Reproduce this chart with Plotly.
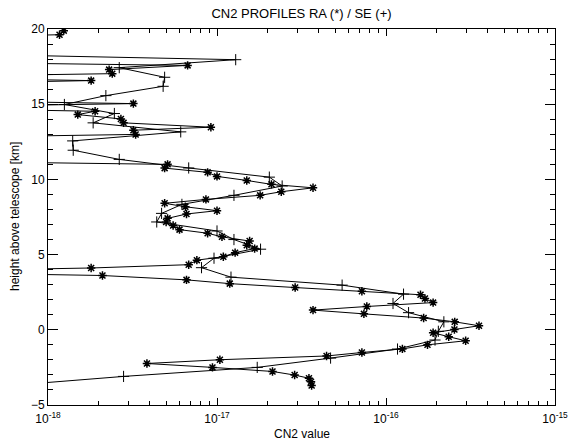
import plotly.graph_objects as go

# RA profile (asterisks): height above telescope [km] and CN2 value.
# Layers with CN2 below the plotted range are kept at 1e-19.
ra_height = [19.89, 19.62, 19.36, 17.84, 17.58, 17.30, 17.03, 16.80, 16.57, 16.31,
             15.30, 15.04, 14.78, 14.53, 14.31, 14.02, 13.76, 13.47, 13.27, 12.99,
             12.73, 11.25, 11.00, 10.75, 10.47, 10.20, 9.93, 9.67, 9.44, 9.18,
             8.94, 8.67, 8.41, 8.18, 7.92, 7.70, 7.41, 7.17, 6.93, 6.66,
             6.42, 6.18, 5.90, 5.62, 5.40, 5.13, 4.86, 4.63, 4.33, 4.11,
             3.86, 3.61, 3.32, 3.07, 2.81, 2.56, 2.33, 2.08, 1.81, 1.55,
             1.31, 1.06, 0.78, 0.53, 0.27, 0.02, -0.20, -0.46, -0.73, -1.00,
             -1.27, -1.51, -1.74, -1.99, -2.24, -2.50, -2.77, -3.01, -3.22, -3.45,
             -3.70]
ra_cn2 = [1.24e-18, 1.17e-18, 1e-19, 1e-19, 6.7e-18, 2.3e-18, 2.4e-18, 1e-19, 1.8e-18, 1e-19,
          1e-19, 3.2e-18, 1e-19, 1.9e-18, 1.5e-18, 2.7e-18, 2.8e-18, 9.2e-18, 3.2e-18, 3.3e-18,
          1e-19, 1e-19, 5.1e-18, 4.9e-18, 8.8e-18, 1.0e-17, 1.5e-17, 2.1e-17, 3.7e-17, 2.4e-17,
          1.8e-17, 8.6e-18, 4.9e-18, 6.5e-18, 1.0e-17, 6.6e-18, 5.1e-18, 5.0e-18, 5.5e-18, 6.0e-18,
          8.8e-18, 1.07e-17, 1.56e-17, 1.5e-17, 1.67e-17, 1.28e-17, 1.09e-17, 7.6e-18, 6.8e-18, 1.8e-18,
          1e-19, 2.1e-18, 6.6e-18, 1.19e-17, 2.9e-17, 7.2e-17, 1.6e-16, 1.7e-16, 1.9e-16, 7.7e-17,
          3.7e-17, 7.4e-17, 1.67e-16, 2.55e-16, 3.55e-16, 2.54e-16, 1.9e-16, 2.35e-16, 2.96e-16, 1.76e-16,
          1.25e-16, 7.2e-17, 4.45e-17, 1.04e-17, 3.85e-18, 9.4e-18, 2.13e-17, 2.88e-17, 3.5e-17, 3.6e-17,
          3.63e-17]

# SE profile (plus signs)
se_height = [18.56, 17.96, 17.43, 16.79, 16.19, 15.57, 14.98, 14.38, 13.76, 13.16,
             12.56, 11.94, 11.33, 10.76, 10.15, 9.56, 8.94, 8.34, 7.74, 7.17,
             6.57, 6.00, 5.36, 4.76, 4.13, 3.50, 2.97, 2.37, 1.75, 1.14,
             0.53, -0.10, -0.68, -1.28, -1.88, -2.50, -3.10, -3.70]
se_cn2 = [3e-20, 1.29e-17, 2.64e-18, 4.9e-18, 4.8e-18, 2.2e-18, 1.25e-18, 2.47e-18, 1.85e-18, 6.1e-18,
          1.40e-18, 1.41e-18, 2.64e-18, 6.8e-18, 2.04e-17, 2.43e-17, 1.26e-17, 6.2e-18, 4.7e-18, 4.4e-18,
          1.0e-17, 1.26e-17, 1.81e-17, 9.6e-18, 8.1e-18, 1.21e-17, 5.5e-17, 1.27e-16, 1.10e-16, 1.36e-16,
          2.2e-16, 2.04e-16, 1.95e-16, 1.17e-16, 4.7e-17, 1.73e-17, 2.8e-18, 6e-19]

x_tick_vals = [1e-18, 1e-17, 1e-16, 1e-15]
x_tick_text = ["10<sup>-18</sup>", "10<sup>-17</sup>", "10<sup>-16</sup>", "10<sup>-15</sup>"]
x_minor_vals = [m * 10.0 ** e for e in (-18, -17, -16) for m in range(2, 10)]
y_tick_vals = [-5, 0, 5, 10, 15, 20]
y_minor_vals = [v for v in range(-5, 21) if v % 5 != 0]

FONT = "Liberation Sans"
INK = "black"

fig = go.Figure()
fig.add_trace(go.Scatter(
    x=ra_cn2, y=ra_height, mode="lines+markers", name="RA",
    line=dict(color=INK, width=1),
    marker=dict(symbol="asterisk-open", size=7, color=INK, line=dict(color=INK, width=1.5)),
))
fig.add_trace(go.Scatter(
    x=se_cn2, y=se_height, mode="lines+markers", name="SE",
    line=dict(color=INK, width=1),
    marker=dict(symbol="cross-thin-open", size=8, color=INK, line=dict(color=INK, width=1)),
))

fig.update_layout(
    width=580, height=440,
    margin=dict(l=48, r=15, t=29, b=35),
    paper_bgcolor="white", plot_bgcolor="white",
    showlegend=False,
    font=dict(family=FONT, size=12, color=INK),
    title=dict(text="CN2 PROFILES RA (*) / SE (+)", x=0.5, xref="paper",
               y=1 - 13 / 440, yanchor="middle", font=dict(family=FONT, size=13, color=INK)),
    xaxis=dict(
        type="log", range=[-18, -15],
        tickmode="array", tickvals=x_tick_vals, ticktext=x_tick_text,
        ticks="inside", ticklen=7, tickwidth=1, tickcolor=INK,
        ticklabelstandoff=3,
        minor=dict(tickmode="array", tickvals=x_minor_vals, ticks="inside",
                   ticklen=4, tickwidth=1, tickcolor=INK, showgrid=False),
        showline=True, linecolor=INK, linewidth=1, mirror="ticks",
        showgrid=False, zeroline=False,
        tickfont=dict(family=FONT, size=12, color=INK),
    ),
    yaxis=dict(
        range=[-5, 20],
        tickmode="array", tickvals=y_tick_vals,
        ticks="inside", ticklen=10, tickwidth=1, tickcolor=INK,
        minor=dict(tickmode="array", tickvals=y_minor_vals, ticks="inside",
                   ticklen=5, tickwidth=1, tickcolor=INK, showgrid=False),
        showline=True, linecolor=INK, linewidth=1, mirror="ticks",
        showgrid=False, zeroline=False,
        tickfont=dict(family=FONT, size=12, color=INK),
    ),
    annotations=[
        dict(text="CN2 value", xref="paper", yref="paper", x=0.5, y=0,
             yshift=-29, xanchor="center", yanchor="middle", showarrow=False,
             font=dict(family=FONT, size=12, color=INK)),
        dict(text="height above telescope [km]", xref="paper", yref="paper", x=0, y=0.5,
             xshift=-33, xanchor="center", yanchor="middle", textangle=-90, showarrow=False,
             font=dict(family=FONT, size=12, color=INK)),
    ],
)

fig.write_html("out.html")
